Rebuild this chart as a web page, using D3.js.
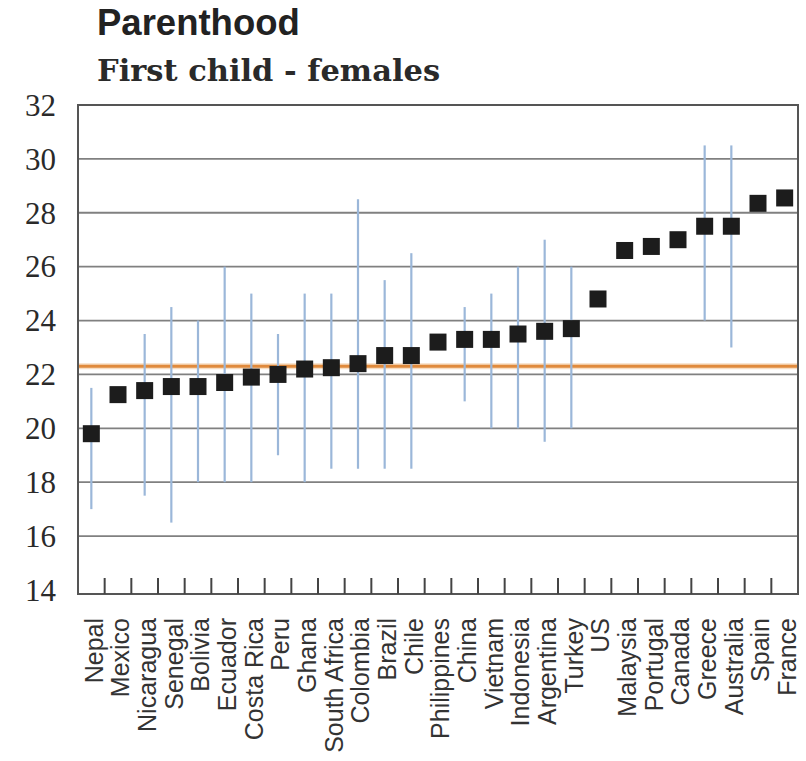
<!DOCTYPE html>
<html>
<head>
<meta charset="utf-8">
<script src="https://cdn.jsdelivr.net/npm/d3@7/dist/d3.min.js"></script>
<style>
  html, body { margin: 0; padding: 0; background: #fff; }
  svg { display: block; }
</style>
</head>
<body>
<svg id="chart" width="806" height="761"></svg>
<script>
const countries = ["Nepal","Mexico","Nicaragua","Senegal","Bolivia","Ecuador","Costa Rica","Peru","Ghana","South Africa","Colombia","Brazil","Chile","Philippines","China","Vietnam","Indonesia","Argentina","Turkey","US","Malaysia","Portugal","Canada","Greece","Australia","Spain","France"];
const ages =      [19.8, 21.25, 21.4, 21.55, 21.55, 21.7, 21.9, 22.0, 22.2, 22.25, 22.4, 22.7, 22.7, 23.2, 23.3, 23.3, 23.5, 23.6, 23.7, 24.8, 26.6, 26.75, 27.0, 27.5, 27.5, 28.35, 28.55];
const rangeHigh = [21.5, null, 23.5, 24.5, 24.0, 26.0, 25.0, 23.5, 25.0, 25.0, 28.5, 25.5, 26.5, null, 24.5, 25.0, 26.0, 27.0, 26.0, null, null, null, null, 30.5, 30.5, null, null];
const rangeLow =  [17.0, null, 17.5, 16.5, 18.0, 18.0, 18.0, 19.0, 18.0, 18.5, 18.5, 18.5, 18.5, null, 21.0, 20.0, 20.0, 19.5, 20.0, null, null, null, null, 24.0, 23.0, null, null];
const referenceAge = 22.3;
const yTicks = [14, 16, 18, 20, 22, 24, 26, 28, 30, 32];
const title = "Parenthood";
const subtitle = "First child - females";

(function () {
const svg = d3.select("#chart");
const pl = 78, pr = 798, pt = 105, pb = 594;

const x = d3.scaleBand().domain(countries).range([pl, pr]).padding(0);
const y = d3.scaleLinear().domain([13.85, 32]).range([pb, pt]);

// titles
svg.append("text").attr("x", 97).attr("y", 35)
  .attr("font-family", "Liberation Sans, Arial, sans-serif")
  .attr("font-weight", "bold").attr("font-size", 36.5).attr("fill", "#222")
  .text(title);
svg.append("text").attr("x", 97).attr("y", 81)
  .attr("font-family", "DejaVu Serif, serif")
  .attr("font-weight", "bold").attr("font-size", 30.5).attr("fill", "#2a2a2a")
  .text(subtitle);

// gridlines
svg.append("g").selectAll("line").data(yTicks.filter(d => d > 14 && d < 32)).join("line")
  .attr("x1", pl).attr("x2", pr)
  .attr("y1", d => y(d)).attr("y2", d => y(d))
  .attr("stroke", "#808080").attr("stroke-width", 1.8);

// reference line
svg.append("line")
  .attr("x1", pl).attr("x2", pr)
  .attr("y1", y(referenceAge)).attr("y2", y(referenceAge))
  .attr("stroke", "#f3c79a").attr("stroke-width", 6).attr("opacity", 0.6);
svg.append("line")
  .attr("x1", pl).attr("x2", pr)
  .attr("y1", y(referenceAge)).attr("y2", y(referenceAge))
  .attr("stroke", "#e08a3c").attr("stroke-width", 3);

// frame
svg.append("rect").attr("x", pl).attr("y", pt)
  .attr("width", pr - pl).attr("height", pb - pt)
  .attr("fill", "none").attr("stroke", "#555").attr("stroke-width", 2);

// y axis labels
const yAxis = d3.axisLeft(y).tickValues(yTicks).tickSize(0).tickPadding(22).tickFormat(d3.format("d"));
const ya = svg.append("g").attr("transform", `translate(${pl},0)`).call(yAxis);
ya.select(".domain").remove();
ya.selectAll("text")
  .attr("font-family", "Liberation Serif, Times New Roman, serif")
  .attr("font-size", 31).attr("fill", "#2a2a2a").attr("dy", "0.33em");

// x ticks (between categories)
svg.append("g").selectAll("line").data(countries.slice(1)).join("line")
  .attr("x1", d => x(d)).attr("x2", d => x(d))
  .attr("y1", pb).attr("y2", pb - 16)
  .attr("stroke", "#444").attr("stroke-width", 2);

// x labels
svg.append("g").selectAll("text").data(countries).join("text")
  .attr("transform", d => `translate(${x(d) + x.bandwidth() / 2},618) rotate(-90)`)
  .attr("text-anchor", "end").attr("dy", "0.45em")
  .attr("font-family", "Liberation Sans, Arial, sans-serif")
  .attr("font-size", 25).attr("fill", "#333")
  .text(d => d);

// error bars
const bars = countries.map((c, i) => ({c, hi: rangeHigh[i], lo: rangeLow[i]})).filter(d => d.hi != null);
svg.append("g").selectAll("line").data(bars).join("line")
  .attr("x1", d => x(d.c) + x.bandwidth() / 2).attr("x2", d => x(d.c) + x.bandwidth() / 2)
  .attr("y1", d => y(d.hi)).attr("y2", d => y(d.lo))
  .attr("stroke", "#9bb7d9").attr("stroke-width", 2.2);

// markers
const s = 17;
svg.append("g").selectAll("rect").data(countries.map((c, i) => ({c, v: ages[i]}))).join("rect")
  .attr("x", d => x(d.c) + x.bandwidth() / 2 - s / 2)
  .attr("y", d => y(d.v) - s / 2)
  .attr("width", s).attr("height", s)
  .attr("fill", "#1c1c1c");
})();
</script>
</body>
</html>
